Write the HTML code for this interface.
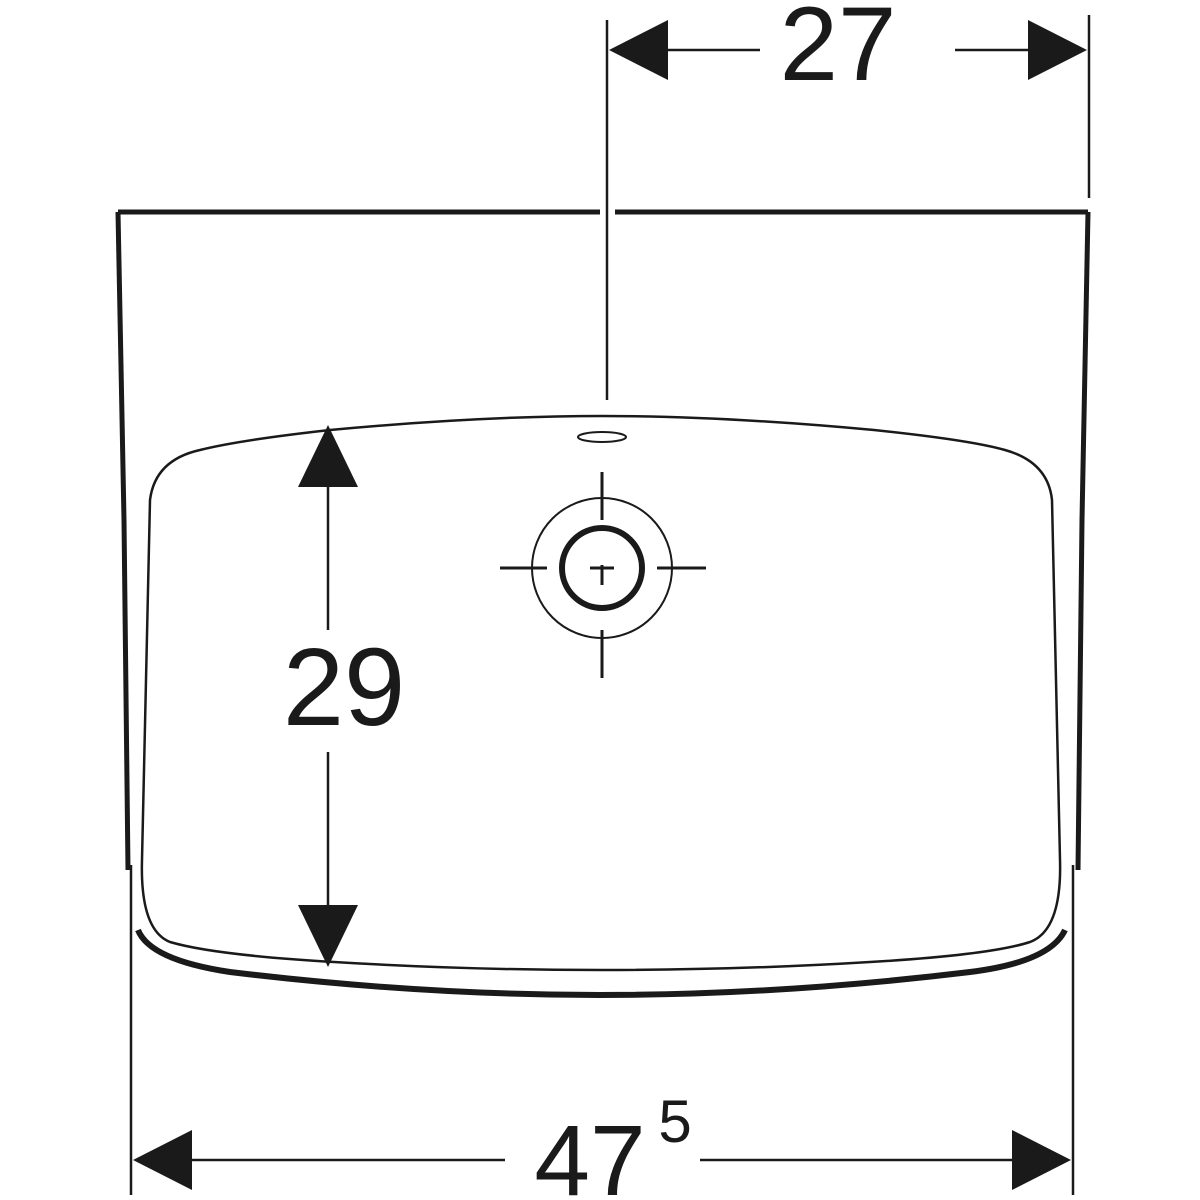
<!DOCTYPE html>
<html><head><style>body{margin:0;background:#fff}svg{display:block}</style></head><body>
<svg width="1200" height="1200" viewBox="0 0 1200 1200" xmlns="http://www.w3.org/2000/svg">
<g fill="none" stroke="#1a1a1a" stroke-linecap="butt">
<path d="M118 212 H600 M615 212 H1088" stroke-width="5"/>
<path d="M118 212 L124 520 L128 870" stroke-width="5"/>
<path d="M1088 212 L1082 520 L1078 870" stroke-width="5"/>
<path d="M138 930 Q150 960 230 972 Q420 995 600 995 Q780 995 970 972 Q1050 962 1065 930" stroke-width="6"/>
<path d="M150 500 Q155 460 200 450 Q240 440 330 430 Q480 416 602 416 Q724 416 874 430 Q970 440 1005 450 Q1048 462 1052 500 L1060 860 Q1062 930 1030 942 Q990 955 870 962 Q740 970 602 970 Q464 970 334 962 Q214 955 170 942 Q140 930 142 860 Z" stroke-width="2.5"/>
<ellipse cx="602" cy="437" rx="24" ry="5" stroke-width="2"/>
<circle cx="602" cy="568" r="70" stroke-width="2"/>
<circle cx="602" cy="568" r="40" stroke-width="6"/>
<path d="M500 568 H547 M657 568 H706 M602 472 V520 M602 630 V678 M590 568 H614 M602 565 V585" stroke-width="3"/>
<path d="M607 20 V400 M1089 15 V198 M131 865 V1195 M1073 865 V1195" stroke-width="2.5"/>
<path d="M660 50 H760 M955 50 H1035" stroke-width="2.5"/>
<path d="M328 480 V630 M328 752 V910" stroke-width="2.5"/>
<path d="M185 1160 H505 M700 1160 H1020" stroke-width="2.5"/>
</g>
<g fill="#1a1a1a">
<polygon points="609,50 668,20 668,80"/>
<polygon points="1087,50 1028,20 1028,80"/>
<polygon points="328,425 298,487 358,487"/>
<polygon points="328,967 298,905 358,905"/>
<polygon points="133,1160 192,1130 192,1190"/>
<polygon points="1071,1160 1012,1130 1012,1190"/>
</g>
<g font-family="Liberation Sans, sans-serif" fill="#1a1a1a">
<text x="838" y="80" font-size="105" text-anchor="middle">27</text>
<text x="344" y="725" font-size="110" text-anchor="middle">29</text>
<text x="590" y="1195" font-size="100" text-anchor="middle">47</text>
<text x="675" y="1142" font-size="60" text-anchor="middle">5</text>
</g>
</svg>
</body></html>
